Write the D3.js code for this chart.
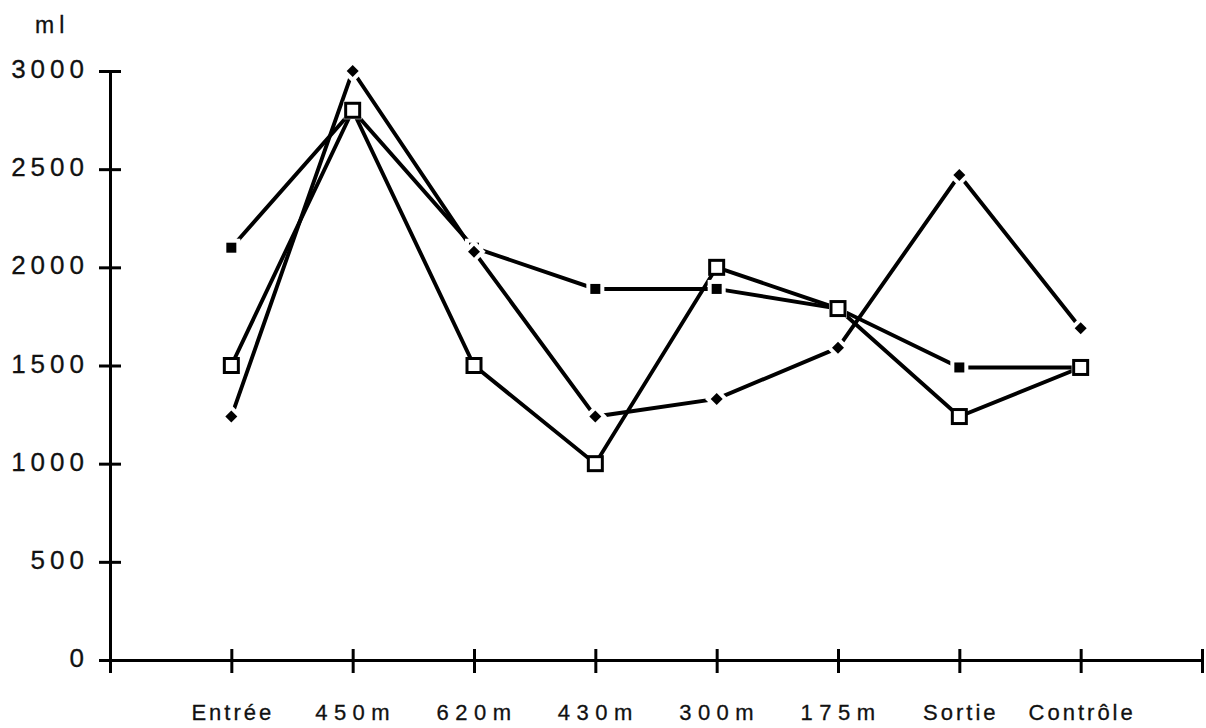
<!DOCTYPE html>
<html>
<head>
<meta charset="utf-8">
<script src="https://cdn.jsdelivr.net/npm/d3@7"></script>
<style>
  html, body { margin: 0; padding: 0; background: #fff; }
  svg { display: block; font-family: "Liberation Sans", Arial, Helvetica, sans-serif; }
</style>
</head>
<body>
<svg id="chart" width="1206" height="728"></svg>
<script>
// ---- data ----
const categories = ["Entrée", "450m", "620m", "430m", "300m", "175m", "Sortie", "Contrôle"];
const openSquareValues = [1500, 2800, 1500, 1000, 2000, 1790, 1240, 1490];
const filledSquareValues = [2100, 2800, 2100, 1890, 1890, 1790, 1490, 1490];
const diamondValues = [1240, 3000, 2080, 1240, 1330, 1590, 2470, 1690];
const yTickValues = [0, 500, 1000, 1500, 2000, 2500, 3000];
const yUnit = "ml";

// ---- layout ----
const svg = d3.select("#chart");
const x = d3.scaleLinear().domain([0, categories.length + 1]).range([110, 1202]);
const y = d3.scaleLinear().domain([0, 3000]).range([660, 71]);
const catX = i => x(i + 1);

// ---- axes ----
const xAxis = d3.axisBottom(x)
  .tickValues(d3.range(0, categories.length + 2))
  .tickFormat(() => "")
  .tickSizeOuter(0);
const gx = svg.append("g").attr("transform", `translate(0,${y(0)})`).call(xAxis);
gx.select(".domain").attr("stroke", "#000").attr("stroke-width", 3);
gx.selectAll(".tick line").attr("y1", -11).attr("y2", 13).attr("stroke", "#000").attr("stroke-width", 3);

const yAxis = d3.axisLeft(y).tickValues(yTickValues).tickFormat(() => "").tickSizeOuter(0);
const gy = svg.append("g").attr("transform", `translate(${x(0)},0)`).call(yAxis);
gy.select(".domain").attr("stroke", "#000").attr("stroke-width", 3);
gy.selectAll(".tick line").attr("x1", -11).attr("x2", 11).attr("stroke", "#000").attr("stroke-width", 3);

// y tick labels
svg.append("g").selectAll("text").data(yTickValues).join("text")
  .attr("x", 84 + 5)
  .attr("y", d => y(d) + 7)
  .attr("text-anchor", "end")
  .attr("font-size", 26)
  .attr("letter-spacing", 5)
  .attr("fill", "#111")
  .attr("stroke", "#111").attr("stroke-width", 0.3)
  .text(d => d);

// unit label
svg.append("text").attr("x", 35).attr("y", 33)
  .attr("font-size", 23).attr("letter-spacing", 5).attr("fill", "#111")
  .attr("stroke", "#111").attr("stroke-width", 0.3).text(yUnit);

// x category labels
svg.append("g").selectAll("text").data(categories).join("text")
  .attr("x", (d, i) => catX(i) + (/^\d/.test(d) ? 3 : 1.5))
  .attr("y", 720)
  .attr("text-anchor", "middle")
  .attr("font-size", 22)
  .attr("letter-spacing", d => /^\d/.test(d) ? 6.5 : 3)
  .attr("fill", "#111")
  .attr("stroke", "#111").attr("stroke-width", 0.3)
  .text(d => d);

// ---- lines ----
const line = d3.line().x((d, i) => catX(i)).y(d => y(d));
[openSquareValues, filledSquareValues, diamondValues].forEach(vals => {
  svg.append("path").datum(vals).attr("d", line)
    .attr("fill", "none").attr("stroke", "#000").attr("stroke-width", 3.9)
    .attr("stroke-linejoin", "miter");
});

// ---- markers ----
// filled squares with white halo
const fs = 10;
svg.append("g").selectAll("rect").data(filledSquareValues).join("rect")
  .attr("x", (d, i) => catX(i) - fs / 2).attr("y", d => y(d) - fs / 2)
  .attr("width", fs).attr("height", fs)
  .attr("fill", "#000").attr("stroke", "#fff").attr("stroke-width", 8)
  .attr("paint-order", "stroke");

// diamonds with white halo
const ds = 6;
svg.append("g").selectAll("path").data(diamondValues).join("path")
  .attr("d", (d, i) => {
    const cx = catX(i), cy = y(d);
    return `M${cx},${cy - ds} L${cx + ds},${cy} L${cx},${cy + ds} L${cx - ds},${cy} Z`;
  })
  .attr("fill", "#000").attr("stroke", "#fff").attr("stroke-width", 8)
  .attr("paint-order", "stroke");

// open squares on top
const os = 14;
svg.append("g").selectAll("rect").data(openSquareValues).join("rect")
  .attr("x", (d, i) => catX(i) - os / 2).attr("y", d => y(d) - os / 2)
  .attr("width", os).attr("height", os)
  .attr("fill", "#fff").attr("stroke", "#000").attr("stroke-width", 3);
</script>
</body>
</html>
